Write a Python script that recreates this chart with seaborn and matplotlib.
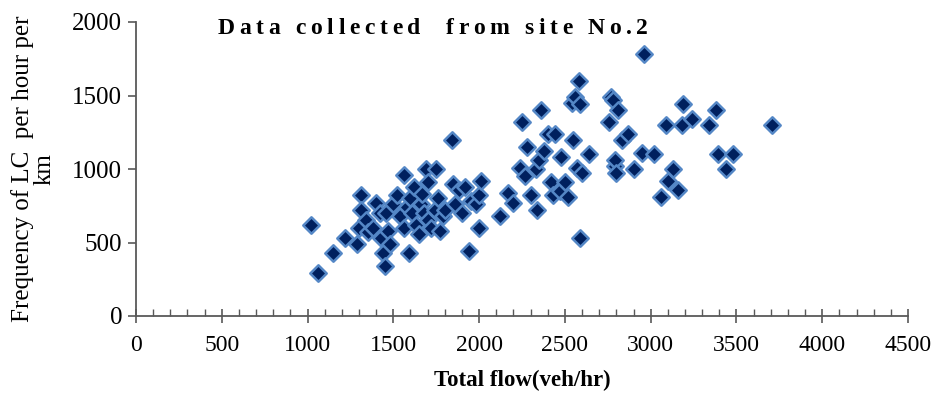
import matplotlib
matplotlib.use("Agg")
import matplotlib.pyplot as plt
from matplotlib.ticker import MultipleLocator
from matplotlib.font_manager import FontProperties
import seaborn as sns
import pandas as pd

# Total flow (veh/hr) and lane-change frequency (per hour per km), site No.2
total_flow = [
    1020, 1060, 1150, 1220, 1290, 1300, 1310, 1310, 1340, 1350,
    1380, 1400, 1420, 1430, 1440, 1450, 1460, 1470, 1480, 1500,
    1520, 1540, 1560, 1560, 1580, 1590, 1600, 1610, 1620, 1630,
    1650, 1660, 1670, 1680, 1690, 1700, 1700, 1720, 1740, 1750,
    1760, 1770, 1790, 1800, 1840, 1850, 1860, 1880, 1900, 1920,
    1940, 1950, 1980, 2000, 2000, 2010, 2120, 2170, 2200, 2240,
    2250, 2270, 2280, 2300, 2330, 2340, 2350, 2360, 2380, 2400,
    2420, 2430, 2440, 2470, 2480, 2500, 2520, 2540, 2550, 2560,
    2570, 2580, 2590, 2590, 2600, 2640, 2760, 2770, 2780, 2790,
    2790, 2800, 2810, 2830, 2870, 2900, 2950, 2960, 3020, 3060,
    3090, 3100, 3130, 3160, 3180, 3190, 3240, 3340, 3380, 3390,
    3440, 3480, 3710,
]
lc_frequency = [
    620, 290, 430, 530, 490, 600, 820, 720, 650, 570,
    600, 770, 700, 530, 430, 340, 700, 580, 490, 760,
    820, 680, 960, 600, 740, 430, 800, 700, 880, 620,
    560, 760, 830, 700, 1000, 910, 650, 600, 720, 1000,
    800, 580, 680, 720, 1200, 900, 760, 860, 700, 880,
    440, 780, 760, 600, 820, 920, 680, 840, 770, 1010,
    1320, 950, 1150, 820, 1000, 720, 1060, 1400, 1120, 1240,
    910, 820, 1240, 850, 1080, 910, 810, 1450, 1200, 1490,
    1010, 1600, 1440, 530, 970, 1100, 1320, 1490, 1470, 1020,
    1060, 970, 1400, 1200, 1240, 1000, 1110, 1780, 1100, 810,
    1300, 920, 1000, 860, 1300, 1440, 1340, 1300, 1400, 1100,
    1000, 1100, 1300,
]

x_ticks = [0, 500, 1000, 1500, 2000, 2500, 3000, 3500, 4000, 4500]
y_ticks = [0, 500, 1000, 1500, 2000]
title = "Data collected  from site No.2"

df = pd.DataFrame({"flow": total_flow, "lc": lc_frequency})

sns.set_theme(style="white")
plt.rcParams["font.family"] = ["Liberation Serif", "DejaVu Serif"]

W, H = 935, 393
fig = plt.figure(figsize=(W / 100, H / 100), dpi=100)
ax = fig.add_axes([136 / W, 1 - 316 / H, (908 - 136) / W, (316 - 22) / H])

sns.scatterplot(data=df, x="flow", y="lc", marker="D", s=70,
                color="#00205e", edgecolor="#5487c6", linewidth=1.8,
                ax=ax, legend=False, zorder=3, clip_on=False)

ax.set_xlim(0, 4500)
ax.set_ylim(0, 2000)
ax.set_xticks(x_ticks)
ax.set_yticks(y_ticks)
ax.xaxis.set_minor_locator(MultipleLocator(100))

for side in ("top", "right"):
    ax.spines[side].set_visible(False)
for side in ("left", "bottom"):
    ax.spines[side].set_color("#595959")
    ax.spines[side].set_linewidth(1.3)

ax.tick_params(axis="x", which="major", direction="inout", length=10,
               width=1.2, color="#595959", labelsize=17, pad=9,
               bottom=True)
ax.tick_params(axis="x", which="minor", direction="in", length=5,
               width=1.0, color="#595959", bottom=True)
ax.tick_params(axis="y", which="major", direction="out", length=6,
               width=1.2, color="#595959", labelsize=18, pad=4, left=True)
for lab in ax.get_xticklabels() + ax.get_yticklabels():
    lab.set_color("black")

ax.set_xlabel("Total flow(veh/hr)", fontsize=16.5, fontweight="bold",
              color="black", labelpad=10)
ax.set_ylabel("Frequency of LC  per hour per\nkm", fontsize=18,
              color="black", linespacing=0.95, labelpad=12)

# Letter-spaced bold heading: each character placed with extra tracking
renderer = fig.canvas.get_renderer()
prop = FontProperties(family="Liberation Serif", weight="bold", size=17)
widths = [renderer.get_text_width_height_descent(c, prop, ismath=False)[0]
          for c in title]
target_left, target_right = 218, 648
tracking = ((target_right - target_left) - sum(widths)) / (len(title) - 1)
xpos = target_left
for c, w in zip(title, widths):
    if c != " ":
        fig.text(xpos / W, 1 - 29 / H, c, fontproperties=prop,
                 color="black", ha="left", va="center")
    xpos += w + tracking

fig.savefig("out.png", dpi=100)
